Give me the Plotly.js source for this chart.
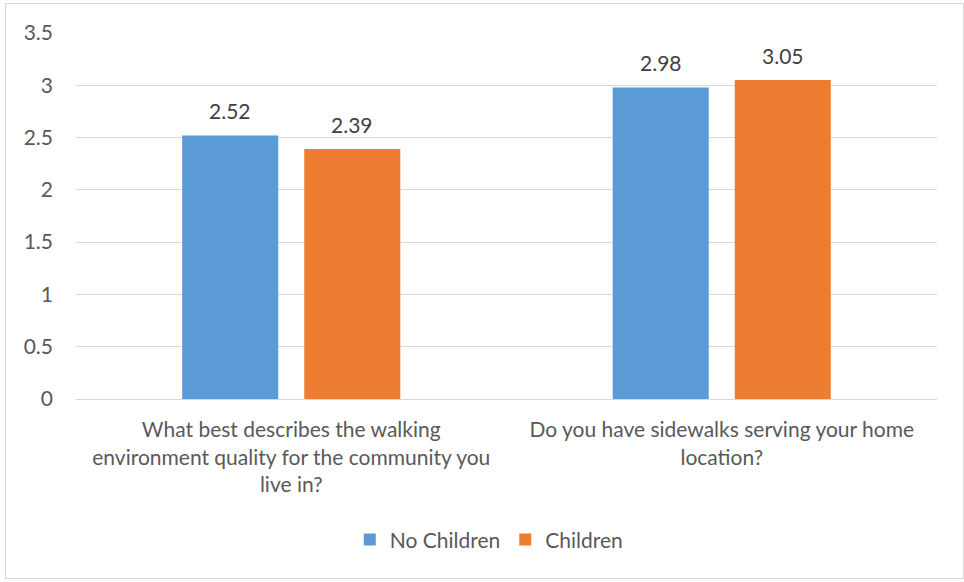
<!DOCTYPE html>
<html>
<head>
<meta charset="utf-8">
<script src="https://cdn.plot.ly/plotly-3.0.1.min.js"></script>
<style>
html,body{margin:0;padding:0;background:#fff;}
#chart{width:964px;height:582px;}
#frame{position:absolute;left:5px;top:3px;width:957px;height:574px;border:1px solid #d9d9d9;pointer-events:none;}
</style>
</head>
<body>
<div id="chart"></div>
<div id="frame"></div>
<script>
const categories = [
  "What best describes the walking<br>environment quality for the community you<br>live in?",
  "Do you have sidewalks serving your home<br>location?"
];
const seriesNames = ["No Children", "Children"];
const noChildren = [2.52, 2.98];
const children = [2.39, 3.05];
const yTicks = [0, 0.5, 1, 1.5, 2, 2.5, 3, 3.5];
const yTickLabels = ["0", "0.5", "1", "1.5", "2", "2.5", "3", "3.5"];

const fam = "Lato, 'Open Sans', sans-serif";
const fs = 21;
const grey = "#595959";

const traces = [
  {type: "bar", name: seriesNames[0], x: categories, y: noChildren,
   marker: {color: "#5b9bd5"}, hoverinfo: "none"},
  {type: "bar", name: seriesNames[1], x: categories, y: children,
   marker: {color: "#ed7d31"}, hoverinfo: "none"}
];

// data labels placed through the axes, shifted to each bar of the group
const slot = 61;
const annotations = [];
[noChildren, children].forEach((vals, si) => {
  vals.forEach((v, ci) => {
    annotations.push({x: categories[ci], y: v, xref: "x", yref: "y",
      text: v.toFixed(2), showarrow: false, xshift: si === 0 ? -slot : slot,
      yshift: 25, yanchor: "middle",
      font: {family: fam, size: fs, color: "#404040"}});
  });
});

const layout = {
  width: 964, height: 582,
  margin: {l: 76, r: 27, t: 33, b: 183},
  paper_bgcolor: "#fff", plot_bgcolor: "#fff",
  font: {family: fam, size: fs, color: grey},
  barmode: "group", bargap: 0.433, bargroupgap: 0.213,
  showlegend: true,
  legend: {orientation: "h", x: 0.48, xanchor: "center", y: -0.385, yanchor: "middle",
           font: {family: fam, size: fs, color: grey}},
  annotations: annotations,
  xaxis: {type: "category", showgrid: false, showline: true, linecolor: "#d9d9d9",
          ticks: "", ticklabelstandoff: 12,
          tickfont: {family: fam, size: fs, color: grey}},
  yaxis: {range: [0, 3.5], tickvals: yTicks, ticktext: yTickLabels,
          showgrid: true, gridcolor: "#d9d9d9", gridwidth: 1, zeroline: false,
          showline: false, ticks: "", ticklabelstandoff: 22,
          tickfont: {family: fam, size: fs, color: grey}}
};

Plotly.newPlot("chart", traces, layout, {displayModeBar: false, staticPlot: true});
</script>
</body>
</html>
